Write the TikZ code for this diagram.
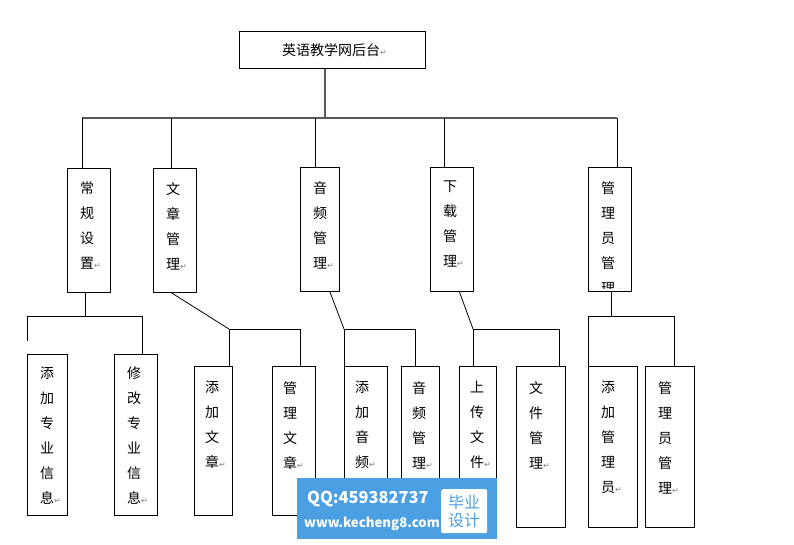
\documentclass[tikz,border=0pt]{standalone}
\usepackage{fontspec}
\newfontfamily\cjk{Noto Sans CJK SC}
\newfontfamily\symf{DejaVu Sans}
\definecolor{wmblue}{RGB}{74,160,226}
\newcommand{\retmark}{{\symf\color{gray}\fontsize{8}{8}\selectfont ↵}}
\begin{document}
\begin{tikzpicture}[x=1pt,y=-1pt,
  box/.style={draw,line width=0.8pt,inner sep=0,anchor=north west},
  vtext/.style={inner sep=0,anchor=north west,align=left,font=\cjk\fontsize{14}{25}\selectfont},
  ln/.style={line width=0.8pt},
  busln/.style={line width=1.2pt,black!65}]
\useasboundingbox[fill=white] (0,0) rectangle (794,544);

% top
\node[box,minimum width=186,minimum height=37] (top) at (239,31) {};
\node[inner sep=0,font=\cjk\fontsize{14}{14}\selectfont] at ([xshift=2pt]top.center) {英语教学网后台\retmark};

% level 1
\node[box,minimum width=43,minimum height=124] (c1) at (67,168) {};
\node[box,minimum width=43,minimum height=124] (c2) at (153,168) {};
\node[box,minimum width=39,minimum height=124] (c3) at (300,167) {};
\node[box,minimum width=43,minimum height=124] (c4) at (430,167) {};
\node[box,minimum width=43,minimum height=124] (c5) at (588,167) {};
\node[vtext] at ([xshift=13pt,yshift=-14pt]c1.north west) {常\\规\\设\\置\retmark};
\node[vtext] at ([xshift=13pt,yshift=-14pt]c2.north west) {文\\章\\管\\理\retmark};
\node[vtext] at ([xshift=13pt,yshift=-14pt]c3.north west) {音\\频\\管\\理\retmark};
\node[vtext] at ([xshift=13pt,yshift=-14pt]c4.north west) {下\\载\\管\\理\retmark};
\begin{scope}
\clip ([yshift=-1pt]c5.north west) rectangle ([yshift=3pt]c5.south east);
\node[vtext] at ([xshift=13pt,yshift=-14pt]c5.north west) {管\\理\\员\\管\\理\retmark};
\end{scope}

% level 2
\node[box,minimum width=40,minimum height=161] (g11) at (27,354) {};
\node[box,minimum width=43,minimum height=161] (g12) at (114,354) {};
\node[box,minimum width=38,minimum height=149] (g21) at (194,366) {};
\node[box,minimum width=43,minimum height=149] (g22) at (272,366) {};
\node[box,minimum width=43,minimum height=149] (g31) at (344,366) {};
\node[box,minimum width=38,minimum height=149] (g32) at (401,366) {};
\node[box,minimum width=37,minimum height=149] (g41) at (459,366) {};
\node[box,minimum width=49,minimum height=161] (g42) at (516,366) {};
\node[box,minimum width=49,minimum height=161] (g51) at (588,366) {};
\node[box,minimum width=49,minimum height=161] (g52) at (645,366) {};
\node[vtext] at ([xshift=13pt,yshift=-13pt]g11.north west) {添\\加\\专\\业\\信\\息\retmark};
\node[vtext] at ([xshift=13pt,yshift=-13pt]g12.north west) {修\\改\\专\\业\\信\\息\retmark};
\node[vtext] at ([xshift=11pt,yshift=-15pt]g21.north west) {添\\加\\文\\章\retmark};
\node[vtext] at ([xshift=11pt,yshift=-15pt]g22.north west) {管\\理\\文\\章\retmark};
\node[vtext] at ([xshift=11pt,yshift=-15pt]g31.north west) {添\\加\\音\\频\retmark};
\node[vtext] at ([xshift=11pt,yshift=-15pt]g32.north west) {音\\频\\管\\理\retmark};
\node[vtext] at ([xshift=11pt,yshift=-15pt]g41.north west) {上\\传\\文\\件\retmark};
\node[vtext] at ([xshift=13pt,yshift=-15pt]g42.north west) {文\\件\\管\\理\retmark};
\node[vtext] at ([xshift=13pt,yshift=-15pt]g51.north west) {添\\加\\管\\理\\员\retmark};
\node[vtext] at ([xshift=13pt,yshift=-15pt]g52.north west) {管\\理\\员\\管\\理\retmark};

% top bus
\coordinate (t0) at (325,118);
\coordinate (busL) at (82,118);
\coordinate (busR) at (617,118);
\coordinate (d1) at (82,118);
\coordinate (d2) at (171,118);
\coordinate (d3) at (315,118);
\coordinate (d4) at (444,118);
\coordinate (d5) at (617,118);
\draw[busln] (t0 |- top.south) -- (t0);
\draw[busln] (busL) -- (busR);
\draw[ln] (d1) -- (d1 |- c1.north);
\draw[ln] (d2) -- (d2 |- c2.north);
\draw[ln] (d3) -- (d3 |- c3.north);
\draw[ln] (d4) -- (d4 |- c4.north);
\draw[ln] (d5) -- (d5 |- c5.north);

% group 1
\coordinate (j1) at (85.5,316);
\coordinate (e1L) at (27,316);
\coordinate (e1R) at (142,316);
\draw[ln] (j1 |- c1.south) -- (j1);
\draw[ln] ([yshift=13pt]g11.north west) -- (e1L) -- (e1R) -- (e1R |- g12.north);

% group 2
\coordinate (j2) at (229,329);
\coordinate (e2R) at (300,329);
\draw[ln] ([xshift=-3.5pt]c2.south) -- (j2);
\draw[ln] (j2 |- g21.north) -- (j2) -- (e2R) -- (e2R |- g22.north);

% group 3
\coordinate (j3) at (344,329);
\coordinate (e3R) at (415,329);
\draw[ln] ([xshift=10pt]c3.south) -- (j3);
\draw[ln] (j3 |- g31.north) -- (j3) -- (e3R) -- (e3R |- g32.north);

% group 4
\coordinate (j4) at (473,329);
\coordinate (e4R) at (559,329);
\draw[ln] ([xshift=7.5pt]c4.south) -- (j4);
\draw[ln] (j4 |- g41.north) -- (j4) -- (e4R) -- (e4R |- g42.north);

% group 5
\coordinate (j5) at (611,316);
\coordinate (e5L) at (588,316);
\coordinate (e5R) at (674,316);
\draw[ln] (j5 |- c5.south) -- (j5);
\draw[ln] (e5L |- g51.north) -- (e5L) -- (e5R) -- (e5R |- g52.north);

% watermark
\node[fill=wmblue,minimum width=200,minimum height=61,anchor=north west,inner sep=0] (wm) at (297,478) {};
\node[fill=white,rounded corners=2pt,minimum width=46,minimum height=44,anchor=north west,inner sep=0] (wmb) at (441,489) {};
\node[text=wmblue,inner sep=0,align=center,font=\cjk\fontsize{16}{18}\selectfont] at (wmb.center) {毕业\\设计};
\node[text=white,inner sep=0,anchor=west,font=\cjk\bfseries\fontsize{16.4}{16.4}\selectfont] at (307,499) {QQ:459382737};
\node[text=white,inner sep=0,anchor=west,font=\cjk\bfseries\fontsize{13.2}{13.2}\selectfont] at (304,524) {www.kecheng8.com};
\end{tikzpicture}
\end{document}
